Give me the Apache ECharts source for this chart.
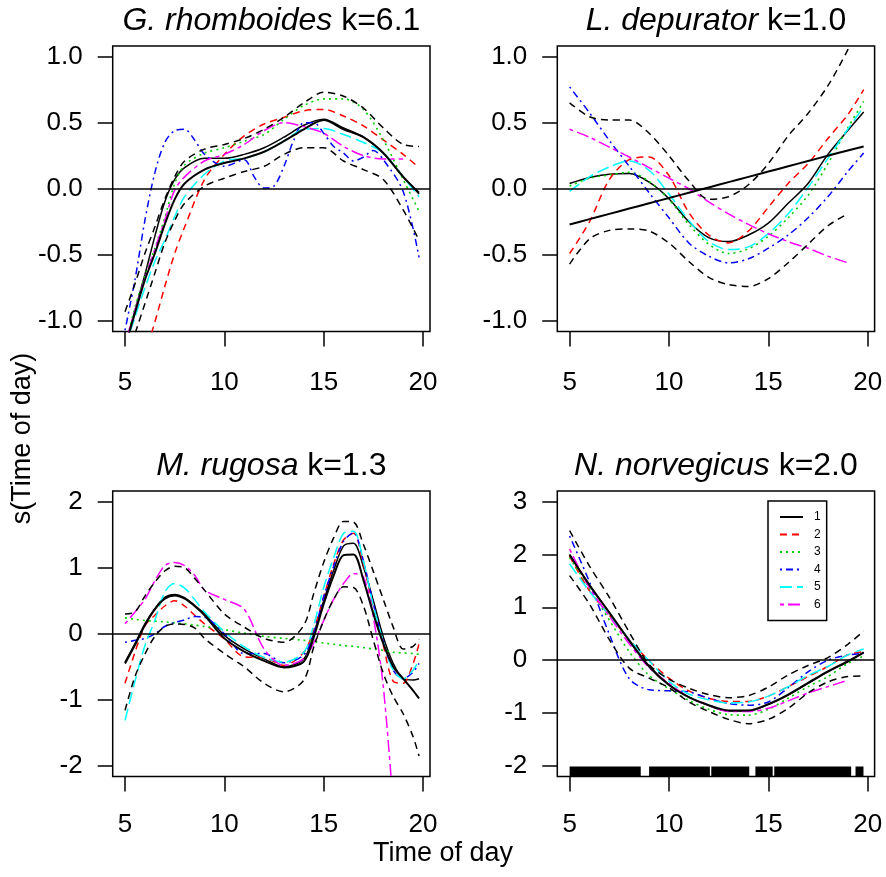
<!DOCTYPE html>
<html>
<head>
<meta charset="utf-8">
<script src="https://cdn.jsdelivr.net/npm/echarts@6/dist/echarts.min.js"></script>
<style>
  html, body { margin: 0; padding: 0; background: #fff; }
  #chart { width: 886px; height: 877px; }
</style>
</head>
<body>
<div id="chart"></div>
<script>
// group labels in the legend
var groupNames = ['1', '2', '3', '4', '5', '6'];
var xTicks = [5, 10, 15, 20];

// --- G. rhomboides (top left)
var rhoHours = [5, 5.5, 6, 6.5, 7, 7.5, 8, 9, 10, 11, 12, 13, 14, 15, 16, 17, 18, 19, 19.8];
var rhoFit   = [-1.2, -0.94, -0.69, -0.49, -0.27, -0.08, 0.04, 0.145, 0.195, 0.23, 0.28, 0.36, 0.45, 0.52, 0.45, 0.39, 0.27, 0.09, -0.03];
var rhoUpper = [-0.93, -0.72, -0.49, -0.29, -0.08, 0.09, 0.21, 0.30, 0.335, 0.38, 0.45, 0.54, 0.65, 0.73, 0.70, 0.61, 0.46, 0.335, 0.32];
var rhoLower = [-1.35, -1.1, -0.87, -0.64, -0.41, -0.24, -0.11, 0.02, 0.08, 0.13, 0.17, 0.26, 0.31, 0.31, 0.21, 0.145, 0.07, -0.16, -0.39];
var rhoG1 = [-1.2, -0.92, -0.65, -0.36, -0.1, 0.07, 0.16, 0.23, 0.23, 0.26, 0.31, 0.39, 0.48, 0.525, 0.46, 0.39, 0.27, 0.09, -0.04];
var rhoG2 = [-1.6, -1.45, -1.25, -1.01, -0.74, -0.49, -0.29, 0.07, 0.26, 0.40, 0.49, 0.54, 0.59, 0.60, 0.55, 0.475, 0.37, 0.26, 0.16];
var rhoG3 = [-1.2, -0.9, -0.66, -0.45, -0.22, 0.04, 0.18, 0.27, 0.31, 0.36, 0.41, 0.525, 0.63, 0.68, 0.68, 0.60, 0.37, 0.07, -0.17];
var rhoG5 = [-1.2, -0.97, -0.75, -0.55, -0.39, -0.21, -0.06, 0.11, 0.21, 0.23, 0.28, 0.36, 0.45, 0.455, 0.41, 0.35, 0.27, 0.09, -0.06];
var rhoG6 = [-1.18, -0.92, -0.68, -0.46, -0.24, -0.01, 0.09, 0.21, 0.26, 0.335, 0.44, 0.50, 0.47, 0.42, 0.32, 0.25, 0.225, 0.225, null];
var rhoHoursG4 = [5, 5.5, 6, 6.5, 7, 7.5, 8, 8.5, 9, 10, 11, 11.5, 12, 12.5, 13, 13.5, 14, 14.5, 15, 15.5, 16, 16.5, 17, 17.5, 18, 19, 19.8];
var rhoG4 = [-1.07, -0.69, -0.24, 0.12, 0.35, 0.44, 0.45, 0.37, 0.26, 0.17, 0.22, 0.09, 0.005, 0.02, 0.17, 0.37, 0.5, 0.5, 0.42, 0.32, 0.27, 0.21, 0.24, 0.29, 0.22, -0.02, -0.52];

// --- L. depurator (top right)
var depHours = [5, 6, 7, 8, 9, 10, 11, 12, 13, 14, 15, 16, 17, 18, 19, 19.8];
var depFit   = [-0.27, -0.23, -0.19, -0.15, -0.11, -0.07, -0.03, 0.01, 0.05, 0.09, 0.13, 0.17, 0.21, 0.25, 0.29, 0.32];
var depUpper = [0.65, 0.545, 0.52, 0.52, 0.42, 0.25, 0.06, -0.08, -0.06, 0.03, 0.19, 0.40, 0.57, 0.78, 1.05, 1.3];
var depLower = [-0.57, -0.38, -0.315, -0.305, -0.32, -0.41, -0.55, -0.67, -0.725, -0.74, -0.68, -0.56, -0.42, -0.28, -0.19, null];
var depG1 = [0.04, 0.085, 0.11, 0.115, 0.05, -0.075, -0.25, -0.37, -0.40, -0.35, -0.26, -0.11, 0.04, 0.26, 0.44, 0.58];
var depG2 = [-0.49, -0.25, 0.07, 0.22, 0.24, 0.10, -0.18, -0.35, -0.41, -0.32, -0.14, 0.04, 0.19, 0.38, 0.56, 0.75];
var depG3 = [0.02, 0.08, 0.105, 0.125, 0.055, -0.08, -0.27, -0.42, -0.49, -0.455, -0.36, -0.22, -0.05, 0.19, 0.46, 0.66];
var depG4 = [0.77, 0.575, 0.365, 0.17, -0.03, -0.22, -0.41, -0.51, -0.56, -0.53, -0.45, -0.35, -0.22, -0.06, 0.13, 0.27];
var depG5 = [-0.02, 0.09, 0.165, 0.21, 0.14, -0.04, -0.24, -0.40, -0.46, -0.44, -0.34, -0.19, 0.01, 0.23, 0.45, 0.62];
var depG6 = [0.45, 0.39, 0.315, 0.24, 0.16, 0.08, 0.0, -0.1, -0.19, -0.27, -0.34, -0.40, -0.45, -0.51, -0.56, null];

// --- M. rugosa (bottom left)
var rugHours = [5, 5.5, 6, 6.5, 7, 7.5, 8, 8.5, 9, 10, 11, 12, 13, 14, 14.5, 15, 15.5, 16, 16.5, 17, 17.5, 18, 18.5, 19, 19.5, 19.8];
var rugFit   = [-0.45, -0.17, 0.13, 0.37, 0.53, 0.58, 0.53, 0.42, 0.28, -0.07, -0.27, -0.41, -0.51, -0.42, -0.05, 0.45, 0.88, 1.19, 1.2, 0.81, 0.30, -0.15, -0.5, -0.68, -0.86, -0.98];
var rugUpper = [0.30, 0.33, 0.57, 0.78, 0.95, 1.02, 1.00, 0.84, 0.66, 0.30, 0.10, -0.07, -0.13, 0.13, 0.61, 1.08, 1.45, 1.70, 1.69, 1.35, 0.94, 0.52, 0.10, -0.23, -0.19, -0.08];
var rugLower = [-1.16, -0.65, -0.31, -0.04, 0.11, 0.15, 0.14, 0.09, -0.07, -0.30, -0.50, -0.75, -0.88, -0.70, -0.2, 0.2, 0.52, 0.71, 0.70, 0.42, -0.1, -0.6, -0.95, -1.21, -1.56, -1.85];
var rugG1 = [-0.43, -0.15, 0.15, 0.38, 0.55, 0.595, 0.545, 0.43, 0.30, -0.025, -0.23, -0.38, -0.50, -0.38, 0.0, 0.50, 0.96, 1.33, 1.37, 1.01, 0.50, -0.05, -0.45, -0.68, -0.70, -0.68];
var rugG2 = [-0.75, -0.28, 0.12, 0.28, 0.42, 0.50, 0.42, 0.28, 0.15, -0.08, -0.35, -0.36, -0.48, -0.28, 0.06, 0.56, 1.05, 1.42, 1.52, 1.05, 0.40, -0.18, -0.72, -0.75, -0.45, -0.15];
var rugG3 = [0.24, 0.22, 0.20, 0.19, 0.18, 0.165, 0.15, 0.13, 0.11, 0.06, 0.01, -0.04, -0.07, -0.10, -0.12, -0.14, -0.16, -0.18, -0.19, -0.21, -0.23, -0.25, -0.28, -0.29, -0.30, -0.31];
var rugG4 = [-0.13, -0.10, -0.07, 0.0, 0.11, 0.17, 0.21, 0.26, 0.25, 0.0, -0.30, -0.30, -0.44, -0.32, 0.01, 0.56, 1.02, 1.40, 1.53, 1.10, 0.45, -0.12, -0.55, -0.68, -0.58, -0.45];
var rugG5 = [-1.31, -0.72, -0.18, 0.2, 0.63, 0.76, 0.69, 0.52, 0.33, 0.03, -0.2, -0.36, -0.43, -0.28, 0.13, 0.7, 1.15, 1.52, 1.55, 1.10, 0.42, -0.12, -0.55, -0.68, -0.55, -0.40];
var rugG6 = [0.15, 0.33, 0.52, 0.80, 1.03, 1.08, 1.03, 0.89, 0.66, 0.52, 0.37, -0.23, -0.48, -0.38, -0.14, 0.2, 0.52, 0.76, 0.91, 0.86, 0.25, -0.8, -2.6, null, null, null];

// --- N. norvegicus (bottom right)
var norHours = [5, 6, 7, 8, 9, 10, 11, 12, 13, 14, 15, 16, 17, 18, 19, 19.8];
var norFit   = [1.99, 1.42, 0.90, 0.37, -0.12, -0.47, -0.70, -0.85, -0.95, -0.95, -0.83, -0.65, -0.43, -0.21, -0.02, 0.15];
var norUpper = [2.45, 1.78, 1.19, 0.53, -0.08, -0.36, -0.53, -0.65, -0.71, -0.67, -0.51, -0.28, -0.10, 0.05, 0.30, 0.55];
var norLower = [1.60, 1.06, 0.39, -0.15, -0.34, -0.52, -0.79, -0.97, -1.12, -1.20, -1.12, -0.91, -0.62, -0.41, -0.31, -0.30];
var norG1 = [2.0, 1.42, 0.90, 0.38, -0.11, -0.46, -0.70, -0.86, -0.96, -0.96, -0.84, -0.66, -0.44, -0.22, -0.03, 0.14];
var norG2 = [1.97, 1.31, 0.85, 0.39, -0.01, -0.34, -0.58, -0.72, -0.78, -0.78, -0.68, -0.50, -0.31, -0.12, 0.10, 0.16];
var norG3 = [1.94, 1.36, 0.76, 0.16, -0.29, -0.54, -0.76, -0.93, -1.03, -1.04, -0.93, -0.72, -0.50, -0.31, -0.06, 0.08];
var norG4 = [2.35, 1.48, 0.49, -0.35, -0.56, -0.58, -0.60, -0.72, -0.82, -0.85, -0.79, -0.52, -0.22, 0.0, 0.095, 0.13];
var norG5 = [1.82, 1.30, 0.85, 0.39, -0.01, -0.40, -0.64, -0.75, -0.81, -0.79, -0.68, -0.50, -0.29, -0.12, 0.10, 0.21];
var norG6 = [2.10, 1.37, 0.83, 0.31, -0.14, -0.44, -0.70, -0.85, -0.97, -0.97, -0.91, -0.77, -0.62, -0.50, -0.38, null];
// rug of observation times (spans where ticks are packed)
var norRug = [[5.0, 8.58], [9.0, 12.06], [12.13, 14.04], [14.35, 15.22], [15.3, 19.17], [19.39, 19.79]];

var FONT = "'Liberation Sans', Arial, Helvetica, sans-serif";

// panel layout
var panels = [
  { title: 'G. rhomboides', k: 'k=6.1', left: 112.7, top: 46, ymin: -1.08, ymax: 1.08, yTicks: [-1, -0.5, 0, 0.5, 1], dec: 1, titleTop: 5, labMargin: 38 },
  { title: 'L. depurator', k: 'k=1.0', left: 557.3, top: 46, ymin: -1.08, ymax: 1.08, yTicks: [-1, -0.5, 0, 0.5, 1], dec: 1, titleTop: 5, labMargin: 38 },
  { title: 'M. rugosa', k: 'k=1.3', left: 112.7, top: 491, ymin: -2.16, ymax: 2.16, yTicks: [-2, -1, 0, 1, 2], dec: 0, titleTop: 450, labMargin: 35 },
  { title: 'N. norvegicus', k: 'k=2.0', left: 557.3, top: 491, ymin: -2.2, ymax: 3.2, yTicks: [-2, -1, 0, 1, 2, 3], dec: 0, titleTop: 450, labMargin: 35 }
];
var PW = 317.3, PH = 285.5;

// R-like line types
var sty = {
  fit: { color: '#000000', width: 2, type: 'solid' },
  ci:  { color: '#000000', width: 1.5, type: [7, 5] },
  '1': { color: '#000000', width: 1.5, type: 'solid' },
  '2': { color: '#ff0000', width: 1.5, type: [7, 5] },
  '3': { color: '#00cd00', width: 1.6, type: [2, 4] },
  '4': { color: '#0000ff', width: 1.5, type: [2, 4, 7, 4] },
  '5': { color: '#00ffff', width: 1.5, type: [12, 5] },
  '6': { color: '#ff00ff', width: 1.5, type: [4, 4, 12, 4] }
};

function pairs(xs, ys) {
  var out = [];
  for (var i = 0; i < xs.length; i++) {
    if (ys[i] !== null) out.push([xs[i], ys[i]]);
  }
  return out;
}

function line(name, idx, xs, ys, st, z) {
  return {
    name: name, type: 'line', xAxisIndex: idx, yAxisIndex: idx,
    data: pairs(xs, ys), symbol: 'none', showSymbol: false,
    smooth: 0.3, clip: true, silent: true, z: z || 2,
    lineStyle: { color: st.color, width: st.width, type: st.type },
    itemStyle: { color: st.color }
  };
}

function fitLine(idx, xs, ys) {
  var s = line('fit', idx, xs, ys, sty.fit, 4);
  s.markLine = {
    silent: true, symbol: 'none', animation: false,
    label: { show: false },
    lineStyle: { color: '#000', type: 'solid', width: 1.5 },
    data: [{ yAxis: 0 }]
  };
  return s;
}

var series = [];
// panel 0
series.push(line('1', 0, rhoHours, rhoG1, sty['1']));
series.push(line('2', 0, rhoHours, rhoG2, sty['2']));
series.push(line('3', 0, rhoHours, rhoG3, sty['3']));
series.push(line('4', 0, rhoHoursG4, rhoG4, sty['4']));
series.push(line('5', 0, rhoHours, rhoG5, sty['5']));
series.push(line('6', 0, rhoHours, rhoG6, sty['6']));
series.push(line('ci', 0, rhoHours, rhoUpper, sty.ci, 3));
series.push(line('ci', 0, rhoHours, rhoLower, sty.ci, 3));
series.push(fitLine(0, rhoHours, rhoFit));
// panel 1
series.push(line('1', 1, depHours, depG1, sty['1']));
series.push(line('2', 1, depHours, depG2, sty['2']));
series.push(line('3', 1, depHours, depG3, sty['3']));
series.push(line('4', 1, depHours, depG4, sty['4']));
series.push(line('5', 1, depHours, depG5, sty['5']));
series.push(line('6', 1, depHours, depG6, sty['6']));
series.push(line('ci', 1, depHours, depUpper, sty.ci, 3));
series.push(line('ci', 1, depHours, depLower, sty.ci, 3));
series.push(fitLine(1, depHours, depFit));
// panel 2
series.push(line('1', 2, rugHours, rugG1, sty['1']));
series.push(line('2', 2, rugHours, rugG2, sty['2']));
series.push(line('3', 2, rugHours, rugG3, sty['3']));
series.push(line('4', 2, rugHours, rugG4, sty['4']));
series.push(line('5', 2, rugHours, rugG5, sty['5']));
series.push(line('6', 2, rugHours, rugG6, sty['6']));
series.push(line('ci', 2, rugHours, rugUpper, sty.ci, 3));
series.push(line('ci', 2, rugHours, rugLower, sty.ci, 3));
series.push(fitLine(2, rugHours, rugFit));
// panel 3
series.push(line('1', 3, norHours, norG1, sty['1']));
series.push(line('2', 3, norHours, norG2, sty['2']));
series.push(line('3', 3, norHours, norG3, sty['3']));
series.push(line('4', 3, norHours, norG4, sty['4']));
series.push(line('5', 3, norHours, norG5, sty['5']));
series.push(line('6', 3, norHours, norG6, sty['6']));
series.push(line('ci', 3, norHours, norUpper, sty.ci, 3));
series.push(line('ci', 3, norHours, norLower, sty.ci, 3));
series.push(fitLine(3, norHours, norFit));
// rug
series.push({
  type: 'custom', xAxisIndex: 3, yAxisIndex: 3, data: norRug, silent: true, clip: true,
  encode: { x: [0, 1] },
  renderItem: function (params, api) {
    var a = api.coord([api.value(0), panels[3].ymin]);
    var b = api.coord([api.value(1), panels[3].ymin]);
    return { type: 'rect', shape: { x: a[0], y: a[1] - 10, width: b[0] - a[0], height: 10 }, style: { fill: '#000' } };
  }
});

var grids = [], xAxes = [], yAxes = [], titles = [];
panels.forEach(function (p, i) {
  grids.push({ left: p.left, top: p.top, width: PW, height: PH, show: true, borderColor: '#000', borderWidth: 1.5, backgroundColor: 'transparent' });
  xAxes.push({
    gridIndex: i, type: 'value', min: 4.38, max: 20.35,
    axisLine: { show: false, onZero: false }, splitLine: { show: false },
    axisTick: { show: true, length: 15, lineStyle: { color: '#000', width: 1.5 }, customValues: xTicks },
    axisLabel: { customValues: xTicks, fontSize: 26, color: '#000', fontFamily: FONT, margin: p.labMargin }
  });
  yAxes.push({
    gridIndex: i, type: 'value', min: p.ymin, max: p.ymax,
    axisLine: { show: false, onZero: false }, splitLine: { show: false },
    axisTick: { show: true, length: 15, lineStyle: { color: '#000', width: 1.5 }, customValues: p.yTicks },
    axisLabel: {
      customValues: p.yTicks, fontSize: 26, color: '#000', fontFamily: FONT, margin: 30,
      formatter: (function (d) { return function (v) { return Number(v).toFixed(d); }; })(p.dec)
    }
  });
  titles.push({
    text: '{i|' + p.title + '} ' + p.k,
    left: p.left + PW / 2, top: p.titleTop, textAlign: 'center', padding: 0,
    textStyle: {
      fontSize: 32, fontWeight: 'normal', color: '#000', fontFamily: FONT,
      rich: { i: { fontStyle: 'italic', fontSize: 32, color: '#000', fontFamily: FONT } }
    }
  });
});

var chart = echarts.init(document.getElementById('chart'), null, { renderer: 'canvas' });
chart.setOption({
  backgroundColor: '#ffffff',
  animation: false,
  title: titles,
  grid: grids,
  xAxis: xAxes,
  yAxis: yAxes,
  legend: {
    data: groupNames, orient: 'vertical', left: 768, top: 501,
    padding: [10, 6, 10, 11], itemWidth: 23, itemHeight: 10, itemGap: 5.5,
    borderColor: '#000', borderWidth: 1.5, selectedMode: false,
    itemStyle: { opacity: 0 },
    textStyle: { fontSize: 12, color: '#000', fontFamily: FONT, padding: [0, 0, 0, 6] }
  },
  graphic: [
    { type: 'text', x: 23, y: 438.5, rotation: Math.PI / 2, silent: true,
      style: { text: 's(Time of day)', fontSize: 27, fontFamily: FONT, fill: '#000', align: 'center', verticalAlign: 'middle' } },
    { type: 'text', x: 443, y: 854, silent: true,
      style: { text: 'Time of day', fontSize: 27, fontFamily: FONT, fill: '#000', align: 'center', verticalAlign: 'middle' } }
  ],
  series: series
});
</script>
</body>
</html>
